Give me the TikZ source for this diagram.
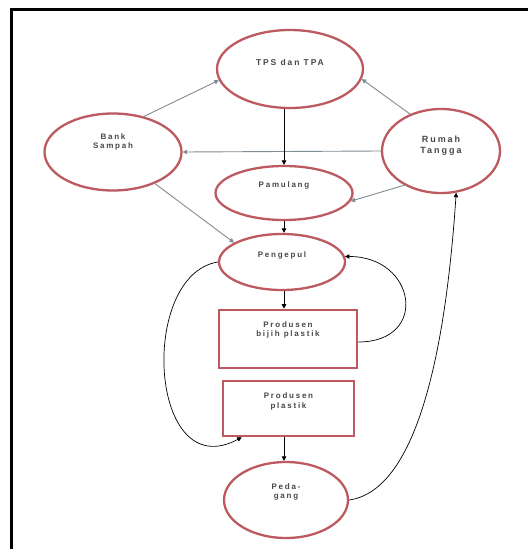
\documentclass[tikz,border=0pt]{standalone}
\usepackage{fontspec}
\usepackage{tikz}
\usetikzlibrary{arrows.meta,shapes.geometric}
\newfontfamily\lblfont[LetterSpace=22]{Liberation Sans}
\definecolor{ovline}{HTML}{BC5A5F}
\definecolor{greyflow}{HTML}{7F8C94}
\tikzset{
  oval/.style={ellipse, draw=ovline, line width=2.3pt, fill=white, inner sep=0pt},
  prodbox/.style={rectangle, draw=ovline, line width=2.6pt, fill=white, inner sep=0pt},
  lbl/.style={font=\lblfont\bfseries\fontsize{8}{9.5}\selectfont, align=center, text=black!72},
  flow/.style={-{Triangle[length=4.5pt,width=4.5pt]}, line width=0.9pt, draw=black},
  gflow/.style={flow, draw=greyflow},
}
\begin{document}
\begin{tikzpicture}[x=1pt, y=-1pt]
  \useasboundingbox (0,0) rectangle (528,549);
  % frame
  \draw[line width=3pt] (11,549) -- (11,9.5) -- (528,9.5);
  \node[oval, minimum width=146pt, minimum height=78pt, label={[lbl, font=\lblfont\bfseries\fontsize{8.5}{10}\selectfont, yshift=7pt]center:TPS dan TPA}] (tps) at (290,69) {};
  \node[oval, minimum width=137pt, minimum height=77pt, label={[lbl, yshift=10pt]center:Bank\\Sampah}] (bank) at (113,152) {};
  \node[oval, minimum width=118pt, minimum height=84pt, label={[lbl, font=\lblfont\bfseries\fontsize{9}{11}\selectfont, yshift=5pt]center:Rumah\\Tangga}] (rumah) at (441,151) {};
  \node[oval, minimum width=137pt, minimum height=54pt, label={[lbl, yshift=8pt]center:Pamulang}] (pam) at (284,193) {};
  \node[oval, minimum width=126pt, minimum height=56pt, label={[lbl, yshift=7pt]center:Pengepul}] (peng) at (282,262) {};
  \node[prodbox, minimum width=138pt, minimum height=58pt, label={[lbl, yshift=9pt]center:Produsen\\bijih plastik}] (bijih) at (288,339) {};
  \node[prodbox, minimum width=131pt, minimum height=55pt, label={[lbl, yshift=7pt]center:Produsen\\plastik}] (plastik) at (288.5,408.5) {};
  \node[oval, minimum width=124pt, minimum height=76pt, label={[lbl, yshift=8pt]center:Peda-\\gang}] (dagang) at (286,500) {};

  \draw[gflow] (bank.49) -- (tps.189);
  \draw[gflow] (rumah.130) -- (tps.352);
  \draw[gflow] (rumah.180) -- (bank.0);
  \draw[gflow] (rumah.223) -- (pam.353);
  \draw[gflow] (bank.323) -- (peng.158);
  \draw[flow] (pam.north |- tps.south) -- (pam.north);
  \draw[flow] (pam.south) -- (pam.south |- peng.north);
  \draw[flow] (pam.south |- peng.south) -- (pam.south |- bijih.north);
  \draw[flow] (pam.south |- plastik.south) -- (pam.south |- dagang.north);
  \draw[flow, line width=0.7pt] ([yshift=-3pt]bijih.east) to[out=0, in=0, looseness=2.1] (peng.5);
  \draw[flow, line width=0.7pt] (peng.west) .. controls +(-80,13) and +(-93,50) .. ([xshift=20pt]plastik.south west);
  \draw[flow, line width=0.7pt] (dagang.east) .. controls +(70,-10) and +(-10,150) .. (rumah.290);
\end{tikzpicture}
\end{document}
